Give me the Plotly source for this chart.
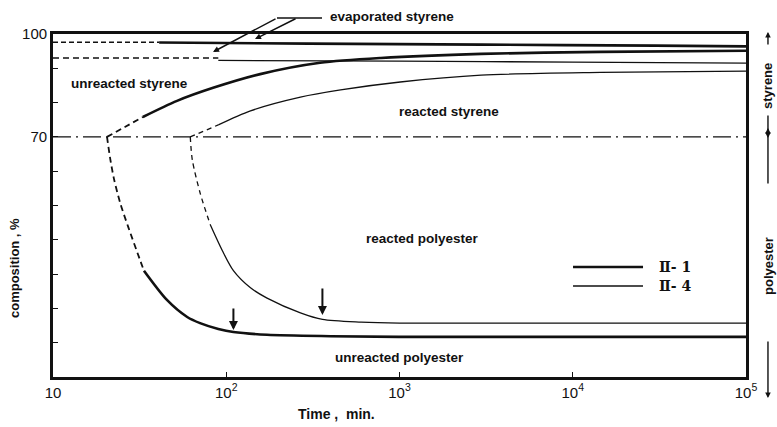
import math
import plotly.graph_objects as go

# ---- data: composition (%) versus curing time (min) ----
# II-1 (thick lines)
evap1_dash_t = [10, 41]
evap1_dash_v = [97.6, 97.6]
evap1_t = [41, 300, 3000, 30000, 100000]
evap1_v = [97.5, 97.2, 96.9, 96.6, 96.4]

sty1_dash_t = [20.5, 26, 33]
sty1_dash_v = [70.0, 72.9, 75.8]
sty1_t = [33, 52, 84, 157, 348, 780, 2960, 14500, 100000]
sty1_v = [75.8, 80.5, 84.3, 88.3, 91.6, 93.0, 94.2, 94.8, 95.1]

pol1_dash_t = [20.5, 21.4, 22.5, 24.5, 27.2, 31.8, 33.5]
pol1_dash_v = [70.0, 63.6, 57.7, 50.5, 43.7, 34.1, 31.0]
pol1_t = [33.5, 45.6, 59.5, 70.6, 90, 110, 172, 400, 1000, 100000]
pol1_v = [31.0, 22.4, 17.5, 15.7, 14.0, 13.1, 12.3, 11.9, 11.7, 11.7]

# II-4 (thin lines)
evap4_dash_t = [10, 90]
evap4_dash_v = [93.0, 93.0]
evap4_t = [90, 1000, 10000, 100000]
evap4_v = [92.3, 92.1, 91.8, 91.5]

sty4_dash_t = [62, 90]
sty4_dash_v = [70.0, 73.5]
sty4_t = [90, 138, 268, 457, 1010, 2960, 14500, 100000]
sty4_v = [73.5, 77.6, 81.6, 83.7, 86.0, 88.0, 88.8, 89.2]

pol4_dash_t = [62, 63.7, 70.7, 81]
pol4_dash_v = [70.0, 63.3, 53.6, 44.3]
pol4_t = [81, 95, 110, 138, 172, 268, 359, 600, 1000, 100000]
pol4_v = [44.3, 36.8, 31.0, 26.0, 23.0, 18.7, 16.8, 16.0, 15.7, 15.7]

# styrene / polyester divide
split_t = [10, 100000]
split_v = [70, 70]

# end-of-cure markers (time, composition at arrow tip)
mark1 = (110, 13.7)
mark4 = (359, 18.1)

x_tickvals = [10, 100, 1000, 10000, 100000]
x_ticktext = ["10", "10<sup>2</sup>", "10<sup>3</sup>", "10<sup>4</sup>", "10<sup>5</sup>"]
y_tickvals = list(range(0, 101, 10))
y_ticktext = ["" if v not in (70, 100) else str(v) for v in y_tickvals]

THICK = 2.6
THIN = 1.3
BLACK = "#111111"
FONT = "Liberation Sans"

fig = go.Figure()


def add_line(t, v, width, dash="solid"):
    fig.add_trace(go.Scatter(
        x=t, y=v, mode="lines", showlegend=False, hoverinfo="skip",
        line=dict(color=BLACK, width=width, dash=dash, shape="spline", smoothing=0.8),
    ))


add_line(split_t, split_v, 1.2, "18px,5px,2px,5px")

add_line(evap1_dash_t, evap1_dash_v, 1.5, "5px,3px")
add_line(evap1_t, evap1_v, THICK)
add_line(evap4_dash_t, evap4_dash_v, 1.3, "6px,4px")
add_line(evap4_t, evap4_v, THIN)

add_line(sty1_dash_t, sty1_dash_v, 1.8, "6px,4px")
add_line(sty1_t, sty1_v, THICK)
add_line(sty4_dash_t, sty4_dash_v, THIN, "5px,4px")
add_line(sty4_t, sty4_v, THIN)

add_line(pol1_dash_t, pol1_dash_v, 1.8, "6px,4px")
add_line(pol1_t, pol1_v, THICK)
add_line(pol4_dash_t, pol4_dash_v, THIN, "5px,4px")
add_line(pol4_t, pol4_v, THIN)

annotations = []

# end-of-cure arrows
for (t, v), ay in ((mark1, -23), (mark4, -28)):
    annotations.append(dict(
        x=math.log10(t), y=v, xref="x", yref="y", text="", showarrow=True,
        ax=0, ay=ay, arrowhead=2, arrowsize=0.9, arrowwidth=2, arrowcolor=BLACK,
    ))


def label(text, x, y, size=13.5, angle=0, anchor="center"):
    annotations.append(dict(
        x=x, y=y, xref="paper", yref="paper", text=text, showarrow=False,
        textangle=angle, xanchor=anchor, yanchor="middle",
        font=dict(family=FONT, size=size, color=BLACK, weight="bold"),
    ))


label("unreacted styrene", 0.1097, 0.857)
label("reacted styrene", 0.5714, 0.7726)
label("reacted polyester", 0.5332, 0.4052)
label("unreacted polyester", 0.5007, 0.0583)
label("evaporated styrene", 0.4892, 1.0496)
label("composition , %", -0.0548, 0.3178, size=13, angle=-90)
label("Time ,  min.", 0.4084, -0.1079, size=14)
label("styrene", 1.0317, 0.8484, size=13, angle=-90)
label("polyester", 1.0317, 0.3236, size=13, angle=-90)

# legend entries
for text, y in (("Ⅱ- 1", 0.3207), ("Ⅱ- 4", 0.2653)):
    annotations.append(dict(
        x=0.872, y=y, xref="paper", yref="paper", text=text, showarrow=False,
        xanchor="left", yanchor="middle",
        font=dict(family="DejaVu Serif", size=14, color=BLACK, weight="bold"),
    ))

# leader arrows for the evaporated fraction
for hx, hy, ax, ay in ((0.2309, 0.9475, 64, -34), (0.2915, 0.9854, 42, -21)):
    annotations.append(dict(
        x=hx, y=hy, xref="paper", yref="paper", text="", showarrow=True,
        ax=ax, ay=ay, arrowhead=2, arrowsize=0.8, arrowwidth=1.5, arrowcolor=BLACK,
    ))

# dimension arrows on the right
for hy, ay in ((1.0058, 14), (0.6968, -24), (0.726, 57), (-0.0612, -58)):
    annotations.append(dict(
        x=1.0317, y=hy, xref="paper", yref="paper", text="", showarrow=True,
        ax=0, ay=ay, arrowhead=2, arrowsize=0.8, arrowwidth=1.4, arrowcolor=BLACK,
    ))

shapes = [
    # leader bar above the frame
    dict(type="line", xref="paper", yref="paper", x0=0.3232, x1=0.3882, y0=1.0466, y1=1.0466,
         line=dict(color=BLACK, width=1.5)),
    # legend keys
    dict(type="line", xref="paper", yref="paper", x0=0.7504, x1=0.8514, y0=0.3207, y1=0.3207,
         line=dict(color=BLACK, width=THICK)),
    dict(type="line", xref="paper", yref="paper", x0=0.7504, x1=0.8514, y0=0.2653, y1=0.2653,
         line=dict(color=BLACK, width=THIN)),
]

fig.update_layout(
    width=777, height=427, autosize=False,
    margin=dict(l=53, r=31, t=34, b=50),
    paper_bgcolor="white", plot_bgcolor="white",
    annotations=annotations, shapes=shapes,
    showlegend=False,
)
fig.update_xaxes(
    type="log", range=[1, 5], showgrid=False, zeroline=False,
    showline=True, linewidth=2.5, linecolor=BLACK, mirror=True,
    ticks="inside", ticklen=5, tickwidth=1.3, tickcolor=BLACK,
    tickvals=x_tickvals, ticktext=x_ticktext,
    tickfont=dict(family=FONT, size=15, color=BLACK),
)
fig.update_yaxes(
    range=[0, 100], showgrid=False, zeroline=False,
    showline=True, linewidth=2.8, linecolor=BLACK, mirror=True,
    ticks="inside", ticklen=5, tickwidth=1.3, tickcolor=BLACK,
    tickvals=y_tickvals, ticktext=y_ticktext,
    tickfont=dict(family=FONT, size=15, color=BLACK),
)

fig.write_html("out.html")
